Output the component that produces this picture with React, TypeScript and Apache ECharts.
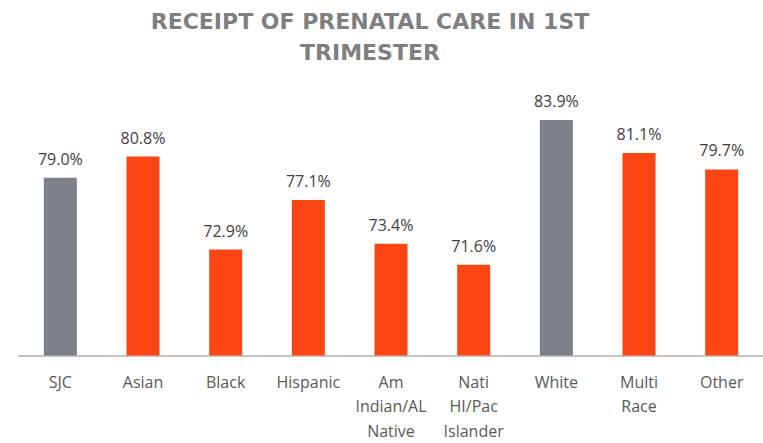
import React, { useEffect, useRef } from "react";
import * as echarts from "echarts";

const categories = [
  "SJC",
  "Asian",
  "Black",
  "Hispanic",
  "Am\nIndian/AL\nNative",
  "Nati\nHI/Pac\nIslander",
  "White",
  "Multi\nRace",
  "Other",
];
const values = [79.0, 80.8, 72.9, 77.1, 73.4, 71.6, 83.9, 81.1, 79.7];
const highlight = [true, false, false, false, false, false, true, false, false];
const titleText = "RECEIPT OF PRENATAL CARE IN 1ST\nTRIMESTER";

const GRAY = "#7d8189";
const ORANGE = "#fc4515";

export default function App() {
  const ref = useRef<HTMLDivElement>(null);
  useEffect(() => {
    if (!ref.current) return;
    const chart = echarts.init(ref.current, null, { renderer: "svg" });
    chart.setOption({
      animation: false,
      backgroundColor: "#ffffff",
      graphic: [
        {
          type: "text",
          x: 370,
          y: 6,
          style: {
            text: titleText,
            fontFamily: "DejaVu Sans",
            fontWeight: "bold",
            fontSize: 22,
            lineHeight: 31,
            fill: "#7f7f7f",
            textAlign: "center",
          },
        },
      ],
      grid: { left: 19, width: 749, top: 60, height: 302, containLabel: false },
      xAxis: {
        type: "category",
        data: categories,
        axisLine: { lineStyle: { color: "#c4c4c4", width: 2 } },
        axisTick: { show: false },
        axisLabel: {
          interval: 0,
          color: "#595959",
          fontFamily: "Open Sans",
          fontSize: 16,
          lineHeight: 24.5,
          margin: 14,
        },
      },
      yAxis: {
        type: "value",
        min: 63.9,
        max: 89,
        show: false,
        splitLine: { show: false },
      },
      series: [
        {
          type: "bar",
          barWidth: 33,
          data: values.map((v, i) => ({
            value: v,
            itemStyle: { color: highlight[i] ? GRAY : ORANGE },
          })),
          label: {
            show: true,
            position: "top",
            distance: 11,
            color: "#404040",
            fontFamily: "Open Sans",
            fontSize: 16,
            formatter: (p: any) => p.value.toFixed(1) + "%",
          },
        },
      ],
    });
    return () => chart.dispose();
  }, []);
  return (
    <div
      ref={ref}
      style={{ position: "fixed", left: 0, top: 0, width: 763, height: 443 }}
    />
  );
}
